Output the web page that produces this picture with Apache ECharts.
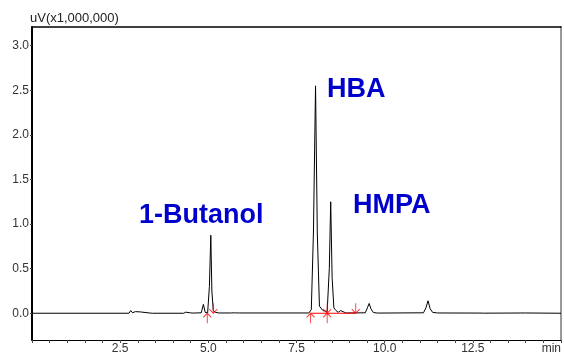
<!DOCTYPE html>
<html>
<head>
<meta charset="utf-8">
<script src="https://cdn.jsdelivr.net/npm/echarts@6/dist/echarts.min.js"></script>
<style>
  html, body { margin: 0; padding: 0; background: #fff; }
  #chart { width: 564px; height: 355px; }
</style>
</head>
<body>
<div id="chart"></div>
<script>
// retention time (min) and detector signal (uV x 1,000,000)
const traceTime = [
  0, 2.75, 2.80, 2.85, 2.93, 2.98, 3.07, 3.12, 3.35, 3.38, 3.42,
  4.30, 4.36, 4.40, 4.50, 4.54, 4.58, 4.80, 4.86, 4.91, 4.98,
  5.03, 5.07, 5.10, 5.14, 5.20, 5.30, 5.65, 5.70, 5.74, 5.80, 5.85, 5.89,
  7.85, 7.92, 7.98, 8.04, 8.09, 8.15, 8.25, 8.37, 8.43, 8.47, 8.51, 8.56,
  8.62, 8.68, 8.75, 8.80, 8.90, 9.45, 9.51, 9.56, 9.61, 9.68, 9.80,
  11.10, 11.17, 11.23, 11.29, 11.36, 11.50, 12.70, 12.75, 12.80, 13.50, 14.00, 15.00
];
const traceSignal = [
  0, 0, 0.03, 0.005, 0.018, 0.003, 0.015, 0.002, 0.002, 0.015, 0,
  0, 0.012, 0.003, 0.004, 0.025, 0.002, 0.005, 0.10, 0.01, 0.005,
  0.30, 0.875, 0.25, 0.03, 0.01, 0.003, 0.003, 0.022, 0.005, 0.004, 0.025, 0.003,
  0.003, 0.04, 0.90, 2.55, 0.90, 0.08, 0.03, 0.02, 0.50, 1.25, 0.40, 0.06,
  0.03, 0.01, 0.03, 0.01, 0.003, 0.005, 0.06, 0.11, 0.05, 0.008, 0.002,
  0.005, 0.06, 0.14, 0.05, 0.01, 0.003, 0.002, 0.006, 0.001, 0.002, 0.003, 0
];

// integration marks
const peakStartTimes = [4.97, 7.90, 8.37];
const peakEndTimes = [5.14, 8.37, 9.18];
const integBaseTimes = [7.90, 9.18];

const peakNames = ['1-Butanol', 'HBA', 'HMPA'];

const yLabelValues = [0, 0.5, 1.0, 1.5, 2.0, 2.5, 3.0];
const xLabelValues = [2.5, 5.0, 7.5, 10.0, 12.5, 15.0];

const xTickValues = [];
for (let t = 0; t <= 15; t += 0.5) xTickValues.push(t);

const upArrow = 'path://M5,0 L5,12 M1,5 L5,0 L9,5';
const downArrow = 'path://M5,0 L5,12 M1,7 L5,12 L9,7';

const FONT = 'Liberation Sans, Arial, sans-serif';

const chart = echarts.init(document.getElementById('chart'), null, { renderer: 'canvas' });

const option = {
  animation: false,
  grid: { left: 32, right: 2, top: 27, bottom: 13 },
  xAxis: [
    {
      type: 'value',
      min: 0,
      max: 15,
      axisLine: { onZero: false, lineStyle: { color: '#000', width: 1 } },
      axisTick: { length: 3, customValues: xTickValues, lineStyle: { color: '#444' } },
      axisLabel: {
        customValues: xLabelValues,
        margin: 3,
        fontFamily: FONT,
        fontSize: 12,
        color: '#333',
        alignMaxLabel: 'right',
        formatter: (v) => (v === 15 ? 'min' : v.toFixed(1))
      },
      splitLine: { show: false }
    },
    {
      type: 'value',
      position: 'top',
      min: 0,
      max: 15,
      axisLine: { show: true, onZero: false, lineStyle: { color: '#000', width: 1.5 } },
      axisTick: { show: false },
      axisLabel: { show: false },
      splitLine: { show: false }
    }
  ],
  yAxis: [
    {
      type: 'value',
      min: -0.3,
      max: 3.21,
      axisLine: { show: true, onZero: false, lineStyle: { color: '#000', width: 2 } },
      axisTick: { show: true, length: 2, customValues: yLabelValues, lineStyle: { color: '#444' } },
      axisLabel: {
        customValues: yLabelValues,
        margin: 3,
        fontFamily: FONT,
        fontSize: 12,
        color: '#333',
        formatter: (v) => v.toFixed(1)
      },
      splitLine: { show: false }
    },
    {
      type: 'value',
      position: 'right',
      min: -0.3,
      max: 3.21,
      axisLine: { show: true, onZero: false, lineStyle: { color: '#999', width: 2 } },
      axisTick: { show: false },
      axisLabel: { show: false },
      splitLine: { show: false }
    }
  ],
  graphic: [
    {
      type: 'text', left: 30, top: 12,
      style: { text: 'uV(x1,000,000)', font: '13px ' + FONT, fill: '#222' }
    },
    {
      type: 'text', left: 139, top: 202,
      style: { text: peakNames[0], font: 'bold 27px ' + FONT, fill: '#0000CC' }
    },
    {
      type: 'text', left: 327, top: 76,
      style: { text: peakNames[1], font: 'bold 27px ' + FONT, fill: '#0000CC' }
    },
    {
      type: 'text', left: 353, top: 192,
      style: { text: peakNames[2], font: 'bold 27px ' + FONT, fill: '#0000CC' }
    }
  ],
  series: [
    {
      type: 'line',
      data: traceTime.map((t, i) => [t, traceSignal[i]]),
      showSymbol: false,
      lineStyle: { color: '#000', width: 1 },
      sampling: null,
      z: 2
    },
    {
      type: 'line',
      data: integBaseTimes.map((t) => [t, 0]),
      showSymbol: false,
      lineStyle: { color: '#f00', width: 1.2 },
      z: 3
    },
    {
      type: 'scatter',
      data: peakStartTimes.map((t) => [t, 0]),
      symbol: upArrow,
      symbolSize: [8, 10],
      symbolOffset: [0, 5],
      itemStyle: { color: 'rgba(0,0,0,0)', borderColor: '#f00', borderWidth: 1 },
      z: 4
    },
    {
      type: 'scatter',
      data: peakEndTimes.map((t) => [t, 0]),
      symbol: downArrow,
      symbolSize: [8, 10],
      symbolOffset: [0, -5],
      itemStyle: { color: 'rgba(0,0,0,0)', borderColor: '#f00', borderWidth: 1 },
      z: 4
    }
  ]
};

chart.setOption(option);
</script>
</body>
</html>
